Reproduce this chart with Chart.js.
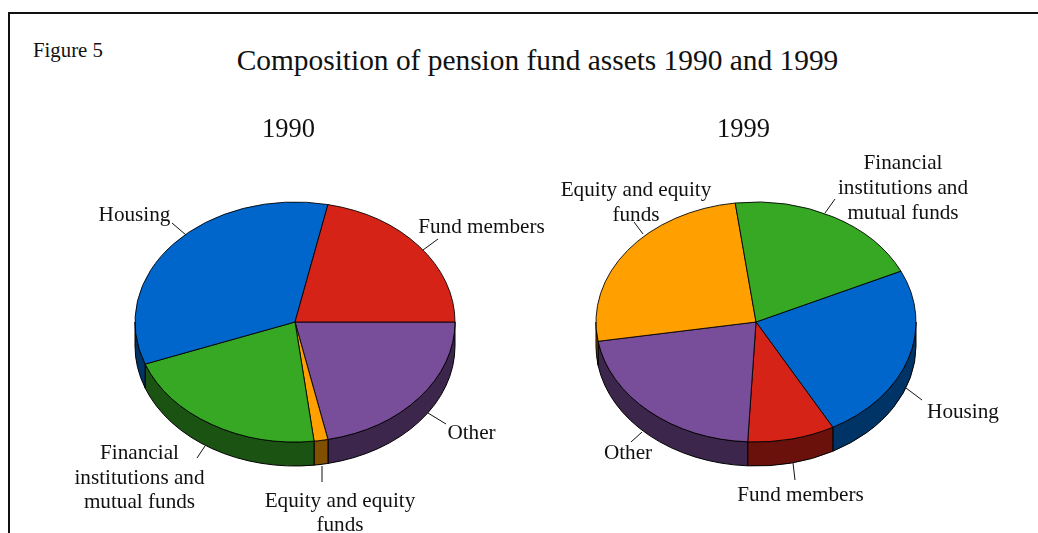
<!DOCTYPE html>
<html>
<head>
<meta charset="utf-8">
<title>Composition of pension fund assets 1990 and 1999</title>
<script src="https://cdn.jsdelivr.net/npm/chart.js@4"></script>
<style>
  html, body { margin: 0; background: #fff; overflow: hidden; }
  body { width: 1038px; height: 533px; position: relative; font-family: "Liberation Serif", serif; color: #111; }
  canvas { position: absolute; left: 0; top: 0; }
  #frame { position: absolute; left: 8px; top: 12px; width: 1040px; height: 540px; border: 2px solid #111; box-sizing: border-box; }
  #fig { position: absolute; left: 33px; top: 38px; font-size: 20.8px; line-height: 24px; }
  #title { position: absolute; left: 0; top: 44px; width: 1075px; text-align: center; font-size: 29.4px; line-height: 32px; white-space: nowrap; }
</style>
</head>
<body>
<div id="frame"></div>
<div id="fig">Figure 5</div>
<div id="title">Composition of pension fund assets 1990 and 1999</div>
<canvas id="c1990" width="1038" height="533"></canvas>
<canvas id="c1999" width="1038" height="533"></canvas>
<script>
// Dos tortas "3D" (1990 y 1999): elipse aplastada con pared lateral.

// 1990, en sentido horario desde las 3
const cats1990 = ["Other", "Equity and equity funds", "Financial institutions and mutual funds", "Housing", "Fund members"];
const vals1990 = [21.7, 1.4, 21.2, 34.0, 21.7];
const colors1990 = ["#784D99", "#FFA000", "#36A824", "#0066CC", "#D62318"];
const walls1990 = ["#3C264C", "#805000", "#1B5412", "#003366", "#6B110C"];

// 1999, en sentido horario desde el borde Housing/Financial
const cats1999 = ["Housing", "Fund members", "Other", "Equity and equity funds", "Financial institutions and mutual funds"];
const vals1999 = [24.0, 8.8, 21.6, 25.5, 20.1];
const colors1999 = ["#0066CC", "#D62318", "#784D99", "#FFA000", "#36A824"];
const walls1999 = ["#003366", "#6B110C", "#3C264C", "#805000", "#1B5412"];

const FLAT = 0.75;     // alto/ancho de la elipse
const DEPTH = 24;      // alto de la pared en px
const RADIUS = 160.5;

// [centro x, baseline, texto]
const textos1990 = [
  [288.5, 137, "1990", 26.5],
  [134.5, 221, "Housing"],
  [481.5, 233, "Fund members"],
  [139.5, 459, "Financial"], [139.5, 484, "institutions and"], [139.5, 508, "mutual funds"],
  [340, 507, "Equity and equity"], [340, 531, "funds"],
  [471.5, 439, "Other"]
];
const textos1999 = [
  [743.5, 137, "1999", 26.5],
  [903, 169, "Financial"], [903, 194, "institutions and"], [903, 219, "mutual funds"],
  [636, 196, "Equity and equity"], [636, 221, "funds"],
  [963, 418, "Housing"],
  [800.5, 501, "Fund members"],
  [628, 459, "Other"]
];

// líneas guía de las etiquetas [x0, y0, x1, y1]
const guias1990 = [[172, 223, 186, 235], [438, 239, 423, 250], [197, 458, 205, 446], [322, 466, 322, 482], [428, 413, 446, 424]];
const guias1999 = [[825, 213, 835, 199], [643, 234, 634, 222], [906, 388, 922, 400], [793, 463, 795, 480], [642, 432, 631, 442]];

const pie3d = {
  id: "pie3d",
  beforeDatasetsDraw(chart, args, opts) {
    const ctx = chart.ctx;
    chart.getDatasetMeta(0).data.forEach((arc, i) => {
      // solo la parte del arco que mira al frente
      [-2, 0, 2].forEach(k => {
        const s = Math.max(arc.startAngle, k * Math.PI);
        const e = Math.min(arc.endAngle, (k + 1) * Math.PI);
        if (e <= s) return;
        ctx.save();
        ctx.translate(arc.x, arc.y);
        ctx.scale(1, FLAT);
        ctx.beginPath();
        ctx.arc(0, 0, arc.outerRadius, s, e);
        ctx.arc(0, DEPTH / FLAT, arc.outerRadius, e, s, true);
        ctx.closePath();
        ctx.restore();
        ctx.fillStyle = opts.walls[i];
        ctx.strokeStyle = "#000";
        ctx.lineWidth = 1;
        ctx.fill();
        ctx.stroke();
      });
    });
    const a = chart.getDatasetMeta(0).data[0];
    ctx.save();
    ctx.translate(a.x, a.y);
    ctx.scale(1, FLAT);
    ctx.translate(-a.x, -a.y);
  },
  afterDatasetsDraw(chart, args, opts) {
    const ctx = chart.ctx;
    ctx.restore();
    ctx.strokeStyle = "#111";
    ctx.lineWidth = 1;
    opts.guias.forEach(g => {
      ctx.beginPath();
      ctx.moveTo(g[0], g[1]);
      ctx.lineTo(g[2], g[3]);
      ctx.stroke();
    });
    ctx.fillStyle = "#111";
    ctx.textAlign = "center";
    ctx.textBaseline = "alphabetic";
    opts.textos.forEach(t => {
      ctx.font = `${t[3] || 21.2}px "Liberation Serif"`;
      ctx.fillText(t[2], t[0], t[1]);
    });
  }
};

function tortaAnual(id, cats, vals, colors, walls, rotacion, cx, textos, guias) {
  const cy = 322;
  return new Chart(document.getElementById(id), {
    type: "pie",
    data: {
      labels: cats,
      datasets: [{ data: vals, backgroundColor: colors, borderColor: "#000", borderWidth: 1 }]
    },
    options: {
      responsive: false,
      animation: false,
      rotation: rotacion,
      layout: { padding: { left: cx - RADIUS, right: 1038 - cx - RADIUS, top: cy - RADIUS, bottom: 533 - cy - RADIUS } },
      plugins: {
        legend: { display: false },
        tooltip: { enabled: false },
        pie3d: { walls, textos, guias }
      }
    },
    plugins: [pie3d]
  });
}

tortaAnual("c1990", cats1990, vals1990, colors1990, walls1990, 90, 295, textos1990, guias1990);
tortaAnual("c1999", cats1999, vals1999, colors1999, walls1999, 64.9, 756, textos1999, guias1999);
</script>
</body>
</html>
